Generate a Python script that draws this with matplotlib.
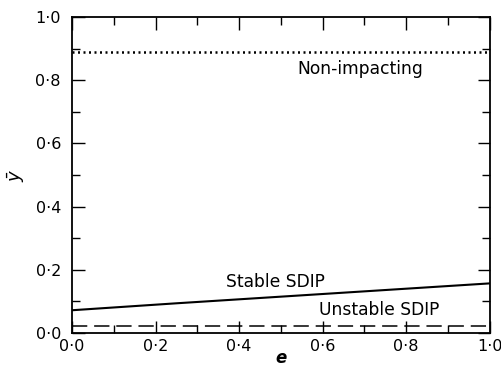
import numpy as np
import matplotlib
matplotlib.use("Agg")
import matplotlib.pyplot as plt
from matplotlib.ticker import MultipleLocator, FuncFormatter

# curves (e vs y-bar)
e_vals = [0.0, 0.25, 0.5, 0.75, 1.0]
stable_sdip = [0.072, 0.094, 0.115, 0.136, 0.157]
unstable_sdip = [0.022, 0.022, 0.022, 0.022, 0.022]
non_impacting = [0.89, 0.89, 0.89, 0.89, 0.89]

labels = ["Non-impacting", "Stable SDIP", "Unstable SDIP"]
label_pos = [(0.69, 0.835), (0.487, 0.162), (0.735, 0.073)]

fig = plt.figure(figsize=(5.02, 3.70), dpi=100)
ax = fig.add_axes([0.1434, 0.1, 0.832, 0.854])

ax.plot(e_vals, non_impacting, color='black', linestyle=(0, (0.8, 1.4)), linewidth=1.8)
ax.plot(e_vals, stable_sdip, color='black', linestyle='-', linewidth=1.5)
ax.plot(e_vals, unstable_sdip, color='black', linestyle=(0, (10, 4.5)), linewidth=1.1)

for txt, (x, y) in zip(labels, label_pos):
    ax.text(x, y, txt, ha='center', va='center', fontsize=12.3)

ax.set_xlim(0, 1)
ax.set_ylim(0, 1)

fmt = FuncFormatter(lambda v, p: f"{v:.1f}".replace('.', '\u00b7'))
for axis in (ax.xaxis, ax.yaxis):
    axis.set_major_locator(MultipleLocator(0.2))
    axis.set_minor_locator(MultipleLocator(0.1))
    axis.set_major_formatter(fmt)

ax.tick_params(which='both', direction='in', top=True, right=True, labelsize=11.5, width=1.0)
ax.tick_params(which='major', length=9)
ax.tick_params(which='minor', length=6)
ax.tick_params(axis='x', pad=4)
ax.tick_params(axis='y', pad=8)

for sp in ax.spines.values():
    sp.set_linewidth(1.3)

ax.set_xlabel('e', fontsize=12, style='italic', fontweight='bold', labelpad=-3)
ax.set_ylabel(r'$\bar{y}$', fontsize=13, labelpad=6)

fig.savefig("out.png", dpi=100)
